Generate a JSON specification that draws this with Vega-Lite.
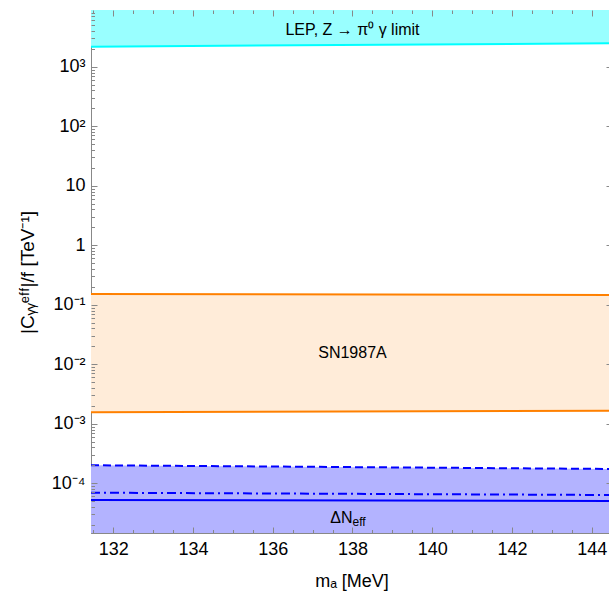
{
  "$schema": "https://vega.github.io/schema/vega-lite/v6.json",
  "width": 521,
  "height": 523,
  "autosize": {"type": "none"},
  "padding": {"left": 91, "top": 10, "right": 0, "bottom": 58},
  "background": "white",
  "config": {
    "view": {"stroke": "#888888", "strokeWidth": 1},
    "font": "Liberation Sans",
    "axis": {"grid": false, "zindex": 1, "domainColor": "#888888", "tickColor": "#888888", "tickWidth": 1, "labelColor": "#000000", "titleColor": "#000000", "labelFont": "Liberation Sans", "titleFont": "Liberation Sans", "labelFontSize": 18, "titleFontSize": 18, "titleFontWeight": "normal"}
  },
  "datasets": {
    "lep": [{"m": 131.44, "lo": 2180, "hi": 100000}, {"m": 144.51, "lo": 2490, "hi": 100000}],
    "sn": [{"m": 131.44, "lo": 0.00156, "hi": 0.152}, {"m": 144.51, "lo": 0.00166, "hi": 0.146}],
    "neff": [
      {"m": 131.44, "dashed": 0.000201, "dashdot": 0.0000695, "solid": 0.0000524, "floor": 0.000001},
      {"m": 144.51, "dashed": 0.000174, "dashdot": 0.0000635, "solid": 0.0000504, "floor": 0.000001}
    ],
    "labels": [
      {"m": 138, "c": 4150, "t": "LEP, Z → π⁰ γ limit", "k": "lep"},
      {"m": 138, "c": 0.0154, "t": "SN1987A", "k": "sn"},
      {"m": 138, "c": 0.0000258, "t": "ΔN", "k": "dn"},
      {"m": 138, "c": 0.0000258, "t": "eff", "k": "eff"}
    ]
  },
  "resolve": {"axis": {"x": "independent", "y": "independent"}},
  "layer": [
    {
      "data": {"name": "lep"},
      "mark": {"type": "area", "color": "#99FFFF", "opacity": 1, "clip": true},
      "encoding": {
        "x": {"field": "m", "type": "quantitative", "scale": {"domain": [131.44, 144.51], "nice": false, "zero": false},
          "axis": {"orient": "bottom", "values": [132, 134, 136, 138, 140, 142, 144], "ticks": false, "labelPadding": 7, "labelFlush": false, "labelOverlap": false, "title": "mₐ [MeV]", "titlePadding": 14}},
        "y": {"field": "lo", "type": "quantitative", "scale": {"type": "log", "domain": [0.0000146, 9000], "nice": false},
          "axis": {"orient": "left", "values": [0.0001, 0.001, 0.01, 0.1, 1, 10, 100, 1000], "ticks": false, "labelPadding": 6, "labelFlush": false, "labelOverlap": false,
            "labelExpr": "['10⁻⁴','10⁻³','10⁻²','10⁻¹','1','10','10²','10³'][round(log(datum.value)/LN10)+4]",
            "title": "|Cᵧᵧᵉᶠᶠ|/f [TeV⁻¹]", "titleFontSize": 19, "titleAngle": -90, "titleAlign": "center", "titleBaseline": "alphabetic", "titleX": -58, "titleY": 262}},
        "y2": {"field": "hi"}
      }
    },
    {
      "data": {"name": "lep"},
      "mark": {"type": "line", "color": "#00FFFF", "strokeWidth": 2, "clip": true},
      "encoding": {
        "x": {"field": "m", "type": "quantitative", "scale": {"domain": [131.44, 144.51], "nice": false, "zero": false},
          "axis": {"orient": "top", "offset": -523, "labels": false, "domain": false, "title": null, "zindex": 2,
            "values": [131.5, 132, 132.5, 133, 133.5, 134, 134.5, 135, 135.5, 136, 136.5, 137, 137.5, 138, 138.5, 139, 139.5, 140, 140.5, 141, 141.5, 142, 142.5, 143, 143.5, 144, 144.5],
            "tickSize": {"condition": {"test": "datum.value % 2 === 0", "value": 6}, "value": 3.5}}},
        "y": {"field": "lo", "type": "quantitative", "scale": {"type": "log", "domain": [0.0000146, 9000], "nice": false},
          "axis": {"orient": "right", "offset": -521, "labels": false, "domain": false, "title": null, "zindex": 2,
            "values": [0.00002, 0.00003, 0.00004, 0.00005, 0.00006, 0.00007, 0.00008, 0.00009, 0.0001, 0.0002, 0.0003, 0.0004, 0.0005, 0.0006, 0.0007, 0.0008, 0.0009, 0.001, 0.002, 0.003, 0.004, 0.005, 0.006, 0.007, 0.008, 0.009, 0.01, 0.02, 0.03, 0.04, 0.05, 0.06, 0.07, 0.08, 0.09, 0.1, 0.2, 0.3, 0.4, 0.5, 0.6, 0.7, 0.8, 0.9, 1, 2, 3, 4, 5, 6, 7, 8, 9, 10, 20, 30, 40, 50, 60, 70, 80, 90, 100, 200, 300, 400, 500, 600, 700, 800, 900, 1000, 2000, 3000, 4000, 5000, 6000, 7000, 8000],
            "tickSize": {"condition": {"test": "abs(log(datum.value)/LN10 - round(log(datum.value)/LN10)) < 0.001", "value": 6}, "value": 3.5}}}
      }
    },
    {
      "data": {"name": "sn"},
      "mark": {"type": "area", "color": "#FFECD9", "opacity": 1, "clip": true},
      "encoding": {
        "x": {"field": "m", "type": "quantitative", "scale": {"domain": [131.44, 144.51], "nice": false, "zero": false},
          "axis": {"orient": "bottom", "offset": -523, "labels": false, "domain": false, "title": null, "zindex": 2,
            "values": [131.5, 132, 132.5, 133, 133.5, 134, 134.5, 135, 135.5, 136, 136.5, 137, 137.5, 138, 138.5, 139, 139.5, 140, 140.5, 141, 141.5, 142, 142.5, 143, 143.5, 144, 144.5],
            "tickSize": {"condition": {"test": "datum.value % 2 === 0", "value": 6}, "value": 3.5}}},
        "y": {"field": "lo", "type": "quantitative", "scale": {"type": "log", "domain": [0.0000146, 9000], "nice": false},
          "axis": {"orient": "left", "offset": -521, "labels": false, "domain": false, "title": null, "zindex": 2,
            "values": [0.0001, 0.001, 0.01, 0.1, 1, 10, 100, 1000],
            "tickSize": 6}},
        "y2": {"field": "hi"}
      }
    },
    {
      "data": {"name": "sn"},
      "mark": {"type": "line", "color": "#FF8000", "strokeWidth": 2, "clip": true},
      "encoding": {
        "x": {"field": "m", "type": "quantitative", "axis": null},
        "y": {"field": "lo", "type": "quantitative", "axis": null}
      }
    },
    {
      "data": {"name": "sn"},
      "mark": {"type": "line", "color": "#FF8000", "strokeWidth": 2, "clip": true},
      "encoding": {
        "x": {"field": "m", "type": "quantitative", "axis": null},
        "y": {"field": "hi", "type": "quantitative", "axis": null}
      }
    },
    {
      "data": {"name": "neff"},
      "mark": {"type": "area", "color": "#B3B3FF", "opacity": 1, "clip": true},
      "encoding": {
        "x": {"field": "m", "type": "quantitative", "axis": null},
        "y": {"field": "dashed", "type": "quantitative", "axis": null},
        "y2": {"field": "floor"}
      }
    },
    {
      "data": {"name": "neff"},
      "mark": {"type": "line", "color": "#0000FF", "strokeWidth": 2, "strokeDash": [8, 4], "clip": true},
      "encoding": {
        "x": {"field": "m", "type": "quantitative", "axis": null},
        "y": {"field": "dashed", "type": "quantitative", "axis": null}
      }
    },
    {
      "data": {"name": "neff"},
      "mark": {"type": "line", "color": "#0000FF", "strokeWidth": 2, "strokeDash": [9, 4, 2, 4], "clip": true},
      "encoding": {
        "x": {"field": "m", "type": "quantitative", "axis": null},
        "y": {"field": "dashdot", "type": "quantitative", "axis": null}
      }
    },
    {
      "data": {"name": "neff"},
      "mark": {"type": "line", "color": "#0000FF", "strokeWidth": 2, "clip": true},
      "encoding": {
        "x": {"field": "m", "type": "quantitative", "axis": null},
        "y": {"field": "solid", "type": "quantitative", "axis": null}
      }
    },
    {
      "data": {"name": "labels"},
      "transform": [{"filter": "datum.k === 'lep' || datum.k === 'sn'"}],
      "mark": {"type": "text", "font": "Liberation Sans", "fontSize": 16, "color": "#000000", "align": "center", "baseline": "middle"},
      "encoding": {
        "x": {"field": "m", "type": "quantitative", "axis": null},
        "y": {"field": "c", "type": "quantitative", "axis": null},
        "text": {"field": "t"}
      }
    },
    {
      "data": {"name": "labels"},
      "transform": [{"filter": "datum.k === 'dn'"}],
      "mark": {"type": "text", "font": "Liberation Sans", "fontSize": 16, "color": "#000000", "align": "right", "baseline": "middle"},
      "encoding": {
        "x": {"field": "m", "type": "quantitative", "axis": null},
        "y": {"field": "c", "type": "quantitative", "axis": null},
        "text": {"field": "t"}
      }
    },
    {
      "data": {"name": "labels"},
      "transform": [{"filter": "datum.k === 'eff'"}],
      "mark": {"type": "text", "font": "Liberation Sans", "fontSize": 12, "color": "#000000", "align": "left", "baseline": "middle", "dy": 4},
      "encoding": {
        "x": {"field": "m", "type": "quantitative", "axis": null},
        "y": {"field": "c", "type": "quantitative", "axis": null},
        "text": {"field": "t"}
      }
    }
  ]
}
